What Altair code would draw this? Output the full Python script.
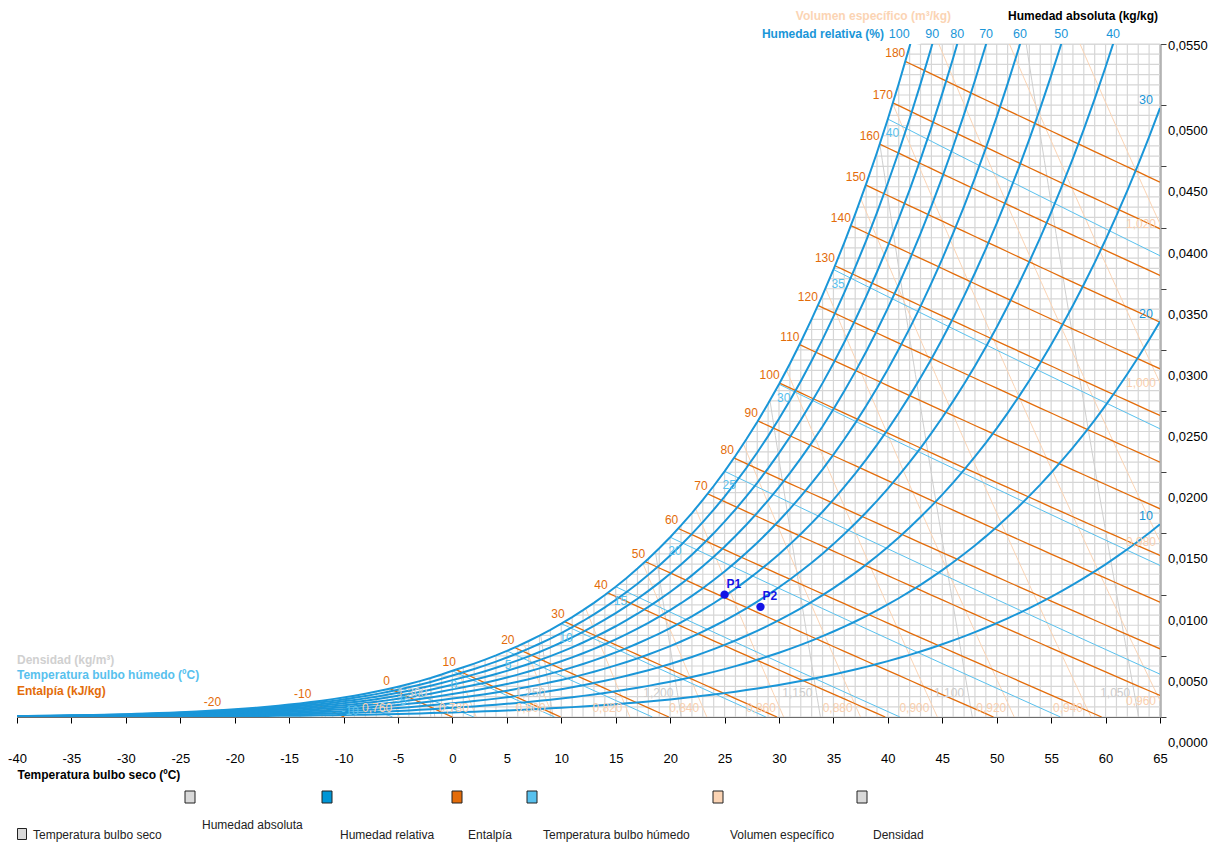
import math
import altair as alt
import pandas as pd

# ---------------- data ----------------
P_ATM = 101.325          # kPa
RA = 0.287042
W_TOP = 0.055
TEMPS = list(range(-40, 66))
# saturation vapour pressure (kPa) at each integer temperature -40..65 (ice below 0)
PWS = [0.01284, 0.01434, 0.01601, 0.01788, 0.01997, 0.02231,
       0.02482, 0.02761, 0.03071, 0.03416, 0.03801,
       0.04209, 0.04661, 0.05162, 0.05716, 0.06329,
       0.06980, 0.07699, 0.08491, 0.09365, 0.10326,
       0.11345, 0.12465, 0.13695, 0.15047, 0.16530,
       0.18096, 0.19810, 0.21686, 0.23740, 0.25990,
       0.28355, 0.30936, 0.33751, 0.36823, 0.40176,
       0.43692, 0.47515, 0.51673, 0.56194, 0.61115,
       0.6571, 0.7060, 0.7581, 0.8135, 0.8725,
       0.9352, 1.0020, 1.0729, 1.1481, 1.2281,
       1.3129, 1.4027, 1.4979, 1.5988, 1.7056,
       1.8185, 1.9380, 2.0644, 2.1978, 2.3388,
       2.4877, 2.6447, 2.8104, 2.9850, 3.1690,
       3.3629, 3.5670, 3.7818, 4.0078, 4.2455,
       4.4953, 4.7578, 5.0335, 5.3229, 5.6267,
       5.9453, 6.2795, 6.6298, 6.9969, 7.3814,
       7.7840, 8.2054, 8.6463, 9.1075, 9.5898,
       10.094, 10.620, 11.171, 11.745, 12.344,
       12.970, 13.623, 14.303, 15.012, 15.752,
       16.522, 17.324, 18.159, 19.028, 19.932,
       20.873, 21.851, 22.868, 23.925, 25.022]
RH_LEVELS = [10, 20, 30, 40, 50, 60, 70, 80, 90, 100]
H_LEVELS = [-20, -10, 0, 10, 20, 30, 40, 50, 60, 70, 80, 90, 100,
            110, 120, 130, 140, 150, 160, 170, 180]
TWB_LEVELS = [-10, -5, 0, 5, 10, 15, 20, 25, 30, 35, 40]
V_LEVELS = [0.74, 0.76, 0.78, 0.80, 0.82, 0.84, 0.86, 0.88, 0.90,
            0.92, 0.94, 0.96, 0.98, 1.00, 1.02]
V_LABELLED = [0.76, 0.78, 0.80, 0.82, 0.84, 0.86, 0.88, 0.90, 0.92,
              0.94, 0.96, 0.98, 1.00, 1.02]
RHO_LEVELS = [1.05, 1.10, 1.15, 1.20, 1.25, 1.30, 1.35]
RHO_LABELLED = [1.05, 1.10, 1.15, 1.20, 1.25, 1.30]
POINT_NAMES = ["P1", "P2"]
POINT_T = [25.0, 28.3]
POINT_W = [0.0100, 0.0090]
X_TICKS = [-40, -35, -30, -25, -20, -15, -10, -5, 0, 5, 10, 15, 20,
           25, 30, 35, 40, 45, 50, 55, 60, 65]
Y_TICKS = [0.0, 0.005, 0.010, 0.015, 0.020, 0.025, 0.030, 0.035,
           0.040, 0.045, 0.050, 0.055]
GRID_T = list(range(-39, 66))
GRID_W = [round(i * 0.005 / 6, 7) for i in range(67)]
LEGEND_NAMES = ["Temperatura bulbo seco", "Humedad absoluta", "Humedad relativa",
                "Entalpía", "Temperatura bulbo húmedo", "Volumen específico", "Densidad"]

# ---------------- styles ----------------
FONT = "Liberation Sans"
C_GRID = "#d6d6d6"
C_RH = "#1a96d8"
C_H = "#e36c0a"
C_WB = "#58c1ee"
C_V = "#fbd4b4"
C_RHO = "#cfcfcf"
C_PT = "#1414e6"
LEGEND_COLORS = ["#d9d9d9", "#d9d9d9", "#0096d6", "#e36c0a", "#58c1ee", "#fbd4b4", "#d9d9d9"]


# ---------------- psychrometric relations ----------------
def pws_at(t):
    t = min(max(t, -40.0), 65.0)
    i = min(int(math.floor(t)) + 40, 104)
    f = t - (i - 40)
    return PWS[i] + (PWS[i + 1] - PWS[i]) * f


def w_of(t, phi=1.0):
    pw = phi * pws_at(t)
    return 0.621945 * pw / (P_ATM - pw)


def solve(f, lo, hi):
    flo = f(lo)
    for _ in range(60):
        mid = 0.5 * (lo + hi)
        fm = f(mid)
        if (fm > 0) == (flo > 0):
            lo, flo = mid, fm
        else:
            hi = mid
    return 0.5 * (lo + hi)


# RH curves
rh_rows, rh_top, rh_side, rh_top100 = [], [], [], []
for phi in RH_LEVELS:
    k = 0
    for t in TEMPS:
        w = w_of(t, phi / 100)
        rh_rows.append({"s": phi, "T": t, "W": w, "o": k})
        k += 1
        if w > W_TOP:
            break
    if w_of(65, phi / 100) > W_TOP:
        tt = solve(lambda t: w_of(t, phi / 100) - W_TOP, -40, 65)
        (rh_top100 if phi == 100 else rh_top).append({"T": tt, "label": str(phi)})
    else:
        rh_side.append({"T": 65, "W": w_of(65, phi / 100), "label": str(phi)})


# enthalpy lines
def h_sat(t):
    w = w_of(t)
    return 1.006 * t + w * (2501 + 1.86 * t)


h_rows, h_labels = [], []
for h in H_LEVELS:
    t0 = solve(lambda t: h_sat(t) - h, -40, 45)
    w0 = w_of(t0)
    t_end = min(h / 1.006, 65.0)
    pts = [(t0, w0)]
    for t in range(math.ceil(t0), math.floor(t_end) + 1):
        if t0 < t < t_end:
            pts.append((t, (h - 1.006 * t) / (2501 + 1.86 * t)))
    pts.append((t_end, max((h - 1.006 * t_end) / (2501 + 1.86 * t_end), 0.0)))
    for k, (t, w) in enumerate(pts):
        h_rows.append({"s": h, "T": t, "W": w, "o": k})
    h_labels.append({"T": t0, "W": w0, "label": str(h)})

# wet-bulb lines
wb_rows, wb_labels = [], []
for tw in TWB_LEVELS:
    ws = w_of(tw)
    if tw >= 0:
        a, b = 2501 - 2.326 * tw, 2501 - 4.186 * tw
    else:
        a, b = 2830 - 0.24 * tw, 2830 - 2.1 * tw
    t_end = min(tw + a * ws / 1.006, 65.0)
    pts = [(tw, ws)]
    for t in range(tw + 1, math.floor(t_end) + 1):
        if t < t_end:
            pts.append((t, (a * ws - 1.006 * (t - tw)) / (b + 1.86 * t)))
    pts.append((t_end, max((a * ws - 1.006 * (t_end - tw)) / (b + 1.86 * t_end), 0.0)))
    for k, (t, w) in enumerate(pts):
        wb_rows.append({"s": tw, "T": t, "W": w, "o": k})
    wb_labels.append({"T": tw, "W": ws, "label": str(tw)})


# specific volume and density lines (T as a function of W)
def t_of_v(v, w):
    return v * P_ATM / (RA * (1 + 1.6078 * w)) - 273.15


def t_of_rho(r, w):
    return (1 + w) / r * P_ATM / (RA * (1 + 1.6078 * w)) - 273.15


def steep_line(fn, level):
    pts = []
    w_prev = 0.0
    for k in range(0, 111):
        w = k * 0.0005
        t = fn(level, w)
        if w > w_of(t):
            wc = solve(lambda x: x - w_of(fn(level, x)), w_prev, w)
            pts.append((fn(level, wc), wc))
            break
        pts.append((t, w))
        w_prev = w
    return pts


def fmt(x, d):
    return ("{:." + str(d) + "f}").format(x).replace(".", ",")


v_rows, v_labels = [], []
for v in V_LEVELS:
    for k, (t, w) in enumerate(steep_line(t_of_v, v)):
        v_rows.append({"s": v, "T": t, "W": w, "o": k})
for v in V_LABELLED:
    t = t_of_v(v, 0.0007)
    if t <= 65:
        v_labels.append({"T": t, "W": 0.0007, "label": fmt(v, 3)})
    else:
        wr = (v * P_ATM / (RA * 338.15) - 1) / 1.6078
        v_labels.append({"T": 65.0, "W": wr, "label": fmt(v, 3)})

rho_rows, rho_labels = [], []
for r in RHO_LEVELS:
    for k, (t, w) in enumerate(steep_line(t_of_rho, r)):
        rho_rows.append({"s": r, "T": t, "W": w, "o": k})
for r in RHO_LABELLED:
    rho_labels.append({"T": t_of_rho(r, 0.002), "W": 0.002, "label": fmt(r, 3)})

mask_rows = [{"T": t, "W": min(w_of(t), W_TOP), "top": W_TOP + 0.0004} for t in range(-40, 44)]
pts_df = pd.DataFrame({"T": POINT_T, "W": POINT_W, "label": POINT_NAMES})
ylab_df = pd.DataFrame({"W": Y_TICKS, "label": [fmt(v, 4) for v in Y_TICKS]})

# ---------------- chart ----------------
XS = alt.Scale(domain=[-40, 65], nice=False, zero=False)
YS = alt.Scale(domain=[0, W_TOP], nice=False, zero=False)
PW, PH = 1143, 673

X_AXIS = alt.Axis(values=X_TICKS, grid=False, labelFlush=False, labelOverlap=False,
                  labelExpr="datum.value + ''",
                  tickSize=6, tickColor="#000000", domainColor="#000000", domainWidth=1.2,
                  labelFontSize=13, labelFont=FONT, labelColor="#000000", labelPadding=29,
                  title="Temperatura bulbo seco (ºC)", titleFont=FONT, titleFontSize=12,
                  titleFontWeight="bold", titleColor="#000000", titleAlign="left",
                  titleX=0, titleY=57, titleBaseline="middle")
Y_AXIS = alt.Axis(orient="right", values=Y_TICKS, grid=False, labels=False,
                  tickSize=6, tickColor="#404040", domainColor="#808080", domainWidth=2,
                  title="")


def xq(field="T"):
    return alt.X(field + ":Q", scale=XS, axis=X_AXIS)


def yq(field="W"):
    return alt.Y(field + ":Q", scale=YS, axis=Y_AXIS)


def lines(rows, color, width):
    return alt.Chart(pd.DataFrame(rows)).mark_line(
        color=color, strokeWidth=width, clip=True
    ).encode(x=xq(), y=yq(), detail="s:N", order="o:Q")


def texts(rows, color, align, dx, dy, size=12, weight="normal", y_value=None):
    enc = {"x": xq(), "text": "label:N"}
    enc["y"] = alt.value(y_value) if y_value is not None else yq()
    return alt.Chart(pd.DataFrame(rows)).mark_text(
        color=color, align=align, baseline="middle", dx=dx, dy=dy,
        fontSize=size, fontWeight=weight, font=FONT
    ).encode(**enc)


dummy = pd.DataFrame({"a": [0]})
OX, OY = 17, 44   # page position of the plot origin


def ptext(txt, px, py, color, size=12, weight="normal", align="left"):
    return alt.Chart(dummy).mark_text(
        text=txt, color=color, fontSize=size, fontWeight=weight, font=FONT,
        align=align, baseline="middle"
    ).encode(x=alt.value(px - OX), y=alt.value(py - OY))


def swatch(px, py, color, w=10, h=12):
    return alt.Chart(dummy).mark_rect(
        color=color, stroke="#222222", strokeWidth=1
    ).encode(x=alt.value(px - OX - w / 2), x2=alt.value(px - OX + w / 2),
             y=alt.value(py - OY - h / 2), y2=alt.value(py - OY + h / 2))


axis_layer = alt.Chart(pd.DataFrame({"T": X_TICKS, "W": [0.0] * len(X_TICKS)})).mark_point(
    opacity=0).encode(x=xq(), y=yq())

grid_v = alt.Chart(pd.DataFrame({"T": GRID_T})).mark_rule(
    color=C_GRID, strokeWidth=1.2).encode(x=xq())
grid_h = alt.Chart(pd.DataFrame({"W": GRID_W})).mark_rule(
    color=C_GRID, strokeWidth=1.2).encode(y=yq())
mask = alt.Chart(pd.DataFrame(mask_rows)).mark_area(
    color="white", opacity=1).encode(x=xq(), y=yq(), y2="top:Q")

# y labels: the top one sits at its tick, the others 26px below theirs
ylab_main = alt.Chart(ylab_df[ylab_df["W"] < 0.0549]).mark_text(
    align="left", baseline="middle", dx=8, dy=26, fontSize=13, font=FONT, color="#000000"
).encode(x=alt.value(PW), y=yq(), text="label:N")
ylab_top = alt.Chart(ylab_df[ylab_df["W"] >= 0.0549]).mark_text(
    align="left", baseline="middle", dx=8, dy=2, fontSize=13, font=FONT, color="#000000"
).encode(x=alt.value(PW), y=yq(), text="label:N")

layers = [
    axis_layer,
    grid_v, grid_h, mask,
    lines(rho_rows, C_RHO, 1),
    lines(v_rows, C_V, 1),
    lines(wb_rows, C_WB, 1),
    lines(h_rows, C_H, 1.3),
    lines(rh_rows, C_RH, 2),
    texts(rho_labels, "#cccccc", "right", -4, 0),
    texts(v_labels, "#f9cfae", "right", -4, 0),
    texts(wb_labels, C_WB, "left", -2, 14),
    texts(h_labels, C_H, "right", 0, -8),
    texts(rh_top, C_RH, "center", 0, 0, size=12.5, y_value=-10),
    texts(rh_top100, C_RH, "center", -11, 0, size=12.5, y_value=-10),
    texts(rh_side, C_RH, "right", -7, -8, size=12.5),
    ylab_main, ylab_top,
    alt.Chart(pts_df).mark_circle(size=70, color=C_PT, opacity=1).encode(x=xq(), y=yq()),
    alt.Chart(pts_df).mark_text(color=C_PT, align="left", baseline="middle", dx=2, dy=-11,
                                fontSize=12, fontWeight="bold", font=FONT
                                ).encode(x=xq(), y=yq(), text="label:N"),
    # titles around the plot
    ptext("Volumen específico (m³/kg)", 951, 16, "#fbd4b4", weight="bold", align="right"),
    ptext("Humedad absoluta (kg/kg)", 1158, 16, "#000000", weight="bold", align="right"),
    ptext("Humedad relativa (%)", 884, 34, C_RH, weight="bold", align="right"),
    ptext("Densidad (kg/m³)", 17, 660, "#d0d0d0", weight="bold"),
    ptext("Temperatura bulbo húmedo (ºC)", 17, 675, C_WB, weight="bold"),
    ptext("Entalpía (kJ/kg)", 17, 691, C_H, weight="bold"),
]

# bottom legend
SW_POS = [(22, 834, 9, 11), (190, 797, 10, 12), (327, 797, 10, 12), (457, 797, 10, 12),
          (532, 797, 10, 12), (718, 797, 10, 12), (862, 797, 10, 12)]
TXT_POS = [(33, 835), (202, 825), (340, 835), (468, 835), (543, 835), (730, 835), (873, 835)]
for name, col, (sx, sy, sw, sh), (tx, ty) in zip(LEGEND_NAMES, LEGEND_COLORS, SW_POS, TXT_POS):
    layers.append(swatch(sx, sy, col, sw, sh))
    layers.append(ptext(name, tx, ty, "#222222", size=12))

chart = alt.layer(*layers).properties(
    width=PW, height=PH,
    autosize=alt.AutoSizeParams(type="none"),
    padding={"left": 9, "top": 36, "right": 52, "bottom": 125},
    background="white",
).configure_view(stroke=None).configure(font=FONT)

chart.save("out.html", embed_options={"renderer": "svg", "actions": False})
